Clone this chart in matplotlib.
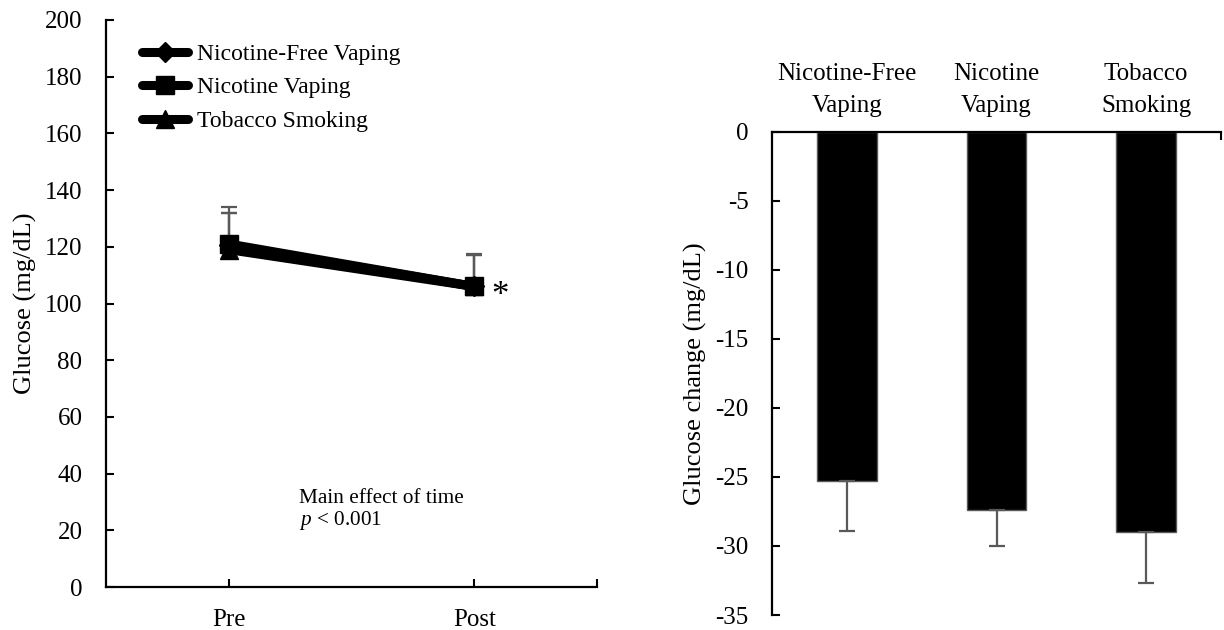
import numpy as np
import matplotlib
matplotlib.use("Agg")
import matplotlib.pyplot as plt

plt.rcParams['font.family'] = ['Liberation Serif', 'DejaVu Serif']
plt.rcParams['mathtext.fontset'] = 'custom'
plt.rcParams['mathtext.it'] = 'Liberation Serif:italic'
plt.rcParams['mathtext.rm'] = 'Liberation Serif'
plt.rcParams['axes.unicode_minus'] = False

# left panel: glucose pre / post
time_labels = ['Pre', 'Post']
groups = ['Nicotine-Free Vaping', 'Nicotine Vaping', 'Tobacco Smoking']
markers = ['D', 's', '^']
glucose_nfv = [120.5, 106.0]
glucose_nv = [121.0, 106.0]
glucose_ts = [119.0, 106.0]
err_nfv = [13.5, 11.0]
err_nv = [11.0, 11.5]
err_ts = [13.0, 11.0]

# right panel: change in glucose
change_labels = ['Nicotine-Free\nVaping', 'Nicotine\nVaping', 'Tobacco\nSmoking']
glucose_change = [-25.3, -27.4, -29.0]
change_err = [3.6, 2.6, 3.7]

W, H = 1224, 630
fig = plt.figure(figsize=(W / 100, H / 100), dpi=100)

ax1 = fig.add_axes([106 / W, 1 - 587 / H, (597 - 106) / W, (587 - 20) / H])
x = np.arange(len(time_labels))
series = [glucose_nfv, glucose_nv, glucose_ts]
errs = [err_nfv, err_nv, err_ts]
for vals, e in zip(series, errs):
    ax1.errorbar(x, vals, yerr=[np.zeros(len(e)), e], fmt='none', ecolor='#595959',
                 elinewidth=1.6, capsize=6, capthick=1.6, zorder=2)
for name, mk, vals in zip(groups, markers, series):
    ms = {'D': 10, 's': 13.5, '^': 13}[mk]
    ax1.plot(x, vals, color='black', lw=6.5, marker=mk, markersize=ms, solid_capstyle='round',
             markerfacecolor='black', markeredgecolor='black', label=name, zorder=3)

ax1.set_xlim(-0.5, 1.5)
ax1.set_ylim(0, 200)
ax1.set_yticks(np.arange(0, 201, 20))
ax1.set_xticks(x)
ax1.set_xticklabels(time_labels)
ax1.set_xticks([1.5], minor=True)
ax1.tick_params(axis='both', which='both', direction='in', labelsize=18, width=1.5, length=6)
ax1.tick_params(axis='y', pad=17)
ax1.tick_params(axis='x', pad=16)
for s in ['top', 'right']:
    ax1.spines[s].set_visible(False)
for s in ['left', 'bottom']:
    ax1.spines[s].set_linewidth(1.6)
ax1.set_ylabel('Glucose (mg/dL)', fontsize=19, labelpad=6)
ax1.text(1.105, 102.5, '*', fontsize=25, ha='center', va='center')
ax1.text(0.285, 29.6, 'Main effect of time', fontsize=15.3, ha='left', va='baseline')
ax1.text(0.285, 21.9, r'$p$ < 0.001', fontsize=15.3, ha='left', va='baseline')

leg = ax1.legend(loc='upper left', bbox_to_anchor=(0.055, 0.975), frameon=False, fontsize=17,
                 handlelength=1.95, handletextpad=0.36, labelspacing=0.5, borderaxespad=0)

# right panel
ax2 = fig.add_axes([772 / W, 1 - 615 / H, (1221 - 772) / W, (615 - 132) / H])
xc = np.arange(len(change_labels))
ax2.bar(xc, glucose_change, width=0.4, color='black', edgecolor='#595959', linewidth=1, zorder=2)
ax2.errorbar(xc, glucose_change, yerr=[change_err, np.zeros(len(change_err))], fmt='none',
             ecolor='#595959', elinewidth=1.6, capsize=6, capthick=1.6, zorder=3)
ax2.set_xlim(-0.5, 2.5)
ax2.set_ylim(-35, 0)
ax2.set_yticks(np.arange(-35, 1, 5))
ax2.xaxis.tick_top()
ax2.set_xticks(xc)
ax2.set_xticklabels(change_labels, linespacing=1.6)
ax2.set_xticks([2.5], minor=True)
ax2.tick_params(axis='x', which='major', length=0, labelsize=18, pad=10.5)
ax2.tick_params(axis='x', which='minor', direction='in', length=6, width=1.5)
ax2.tick_params(axis='y', direction='in', labelsize=18, width=1.5, length=6, pad=17)
for s in ['bottom', 'right']:
    ax2.spines[s].set_visible(False)
for s in ['left', 'top']:
    ax2.spines[s].set_linewidth(1.6)
ax2.set_ylabel('Glucose change (mg/dL)', fontsize=19, labelpad=6)

fig.savefig('out.png', dpi=100)
